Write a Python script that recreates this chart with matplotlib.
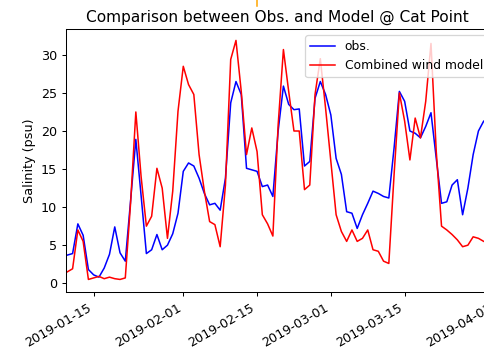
import numpy as np
import pandas as pd
import matplotlib
matplotlib.use('Agg')
import matplotlib.pyplot as plt
import matplotlib.dates as mdates
from matplotlib.lines import Line2D

# daily series starting 2019-01-10
start_date = '2019-01-10'
obs = [3.7, 3.9, 7.8, 6.3, 1.8, 1.1, 0.8, 2.0, 3.8, 7.4,
       4.0, 2.9, 10.8, 18.9, 11.5, 3.9, 4.4, 6.4, 4.4, 5.0,
       6.5, 9.2, 14.7, 15.8, 15.4, 13.8, 11.8, 10.3, 10.5, 9.6,
       13.8, 23.7, 26.5, 24.8, 15.1, 14.9, 14.7, 12.7, 12.9, 11.4,
       20.0, 25.9, 23.5, 22.8, 22.9, 15.4, 16.0, 24.3, 26.5, 24.8,
       22.1, 16.4, 14.3, 9.4, 9.2, 7.2, 9.0, 10.5, 12.1, 11.8,
       11.4, 11.2, 17.8, 25.2, 23.9, 20.0, 19.7, 19.1, 20.6, 22.4,
       16.4, 10.5, 10.7, 12.9, 13.6, 9.0, 12.5, 16.9, 20.0, 21.3,
       21.6, 21.0]
model = [1.5, 1.9, 7.0, 5.5, 0.5, 0.7, 0.9, 0.6, 0.8, 0.6,
         0.5, 0.7, 10.5, 22.5, 14.0, 7.5, 8.8, 15.1, 12.5, 5.9,
         12.1, 22.6, 28.5, 26.1, 24.8, 16.9, 12.1, 8.1, 7.7, 4.8,
         12.9, 29.4, 31.9, 25.2, 16.9, 20.4, 17.3, 9.0, 7.8, 6.2,
         20.8, 30.7, 25.2, 20.0, 20.0, 12.3, 12.9, 24.8, 29.5, 23.0,
         16.0, 9.0, 6.8, 5.5, 7.0, 5.5, 5.9, 7.0, 4.4, 4.2,
         2.9, 2.6, 14.3, 25.0, 21.3, 16.2, 21.7, 19.1, 23.9, 31.5,
         17.3, 7.5, 7.0, 6.4, 5.7, 4.8, 5.0, 6.1, 5.9, 5.5,
         5.3, 5.6]
tick_dates = ['2019-01-15', '2019-02-01', '2019-02-15', '2019-03-01', '2019-03-15', '2019-04-01']

dates = pd.date_range(start_date, periods=len(obs), freq='D')

dpi = 92
fig = plt.figure(figsize=(485 / dpi, 354 / dpi), dpi=dpi)
ax = fig.add_axes([66 / 485, 62 / 354, (505 - 66) / 485, 263 / 354])

ax.plot(dates, obs, color='blue', lw=1.2, label='obs.')
ax.plot(dates, model, color='red', lw=1.2, label='Combined wind model')

ax.set_xlim(pd.Timestamp('2019-01-09 18:00'), pd.Timestamp('2019-04-03 01:00'))
ax.set_ylim(-1.15, 33.4)
ax.set_xticks(pd.to_datetime(tick_dates))
ax.xaxis.set_major_formatter(mdates.DateFormatter('%Y-%m-%d'))
plt.setp(ax.get_xticklabels(), rotation=30, ha='right')

ax.set_ylabel('Salinity (psu)')
ax.set_title('Comparison between Obs. and Model @ Cat Point', x=0.482)
ax.legend(loc='upper left', bbox_to_anchor=(299 / 485, 1 - 29 / 354),
          bbox_transform=fig.transFigure, fontsize=9.7, handlelength=2.0)

# small orange stroke at the top edge
fig.add_artist(Line2D([257 / 485, 257 / 485], [1.0, 1 - 6 / 354],
                      transform=fig.transFigure, color='orange', lw=1.2))

fig.savefig('out.png', dpi=dpi)
